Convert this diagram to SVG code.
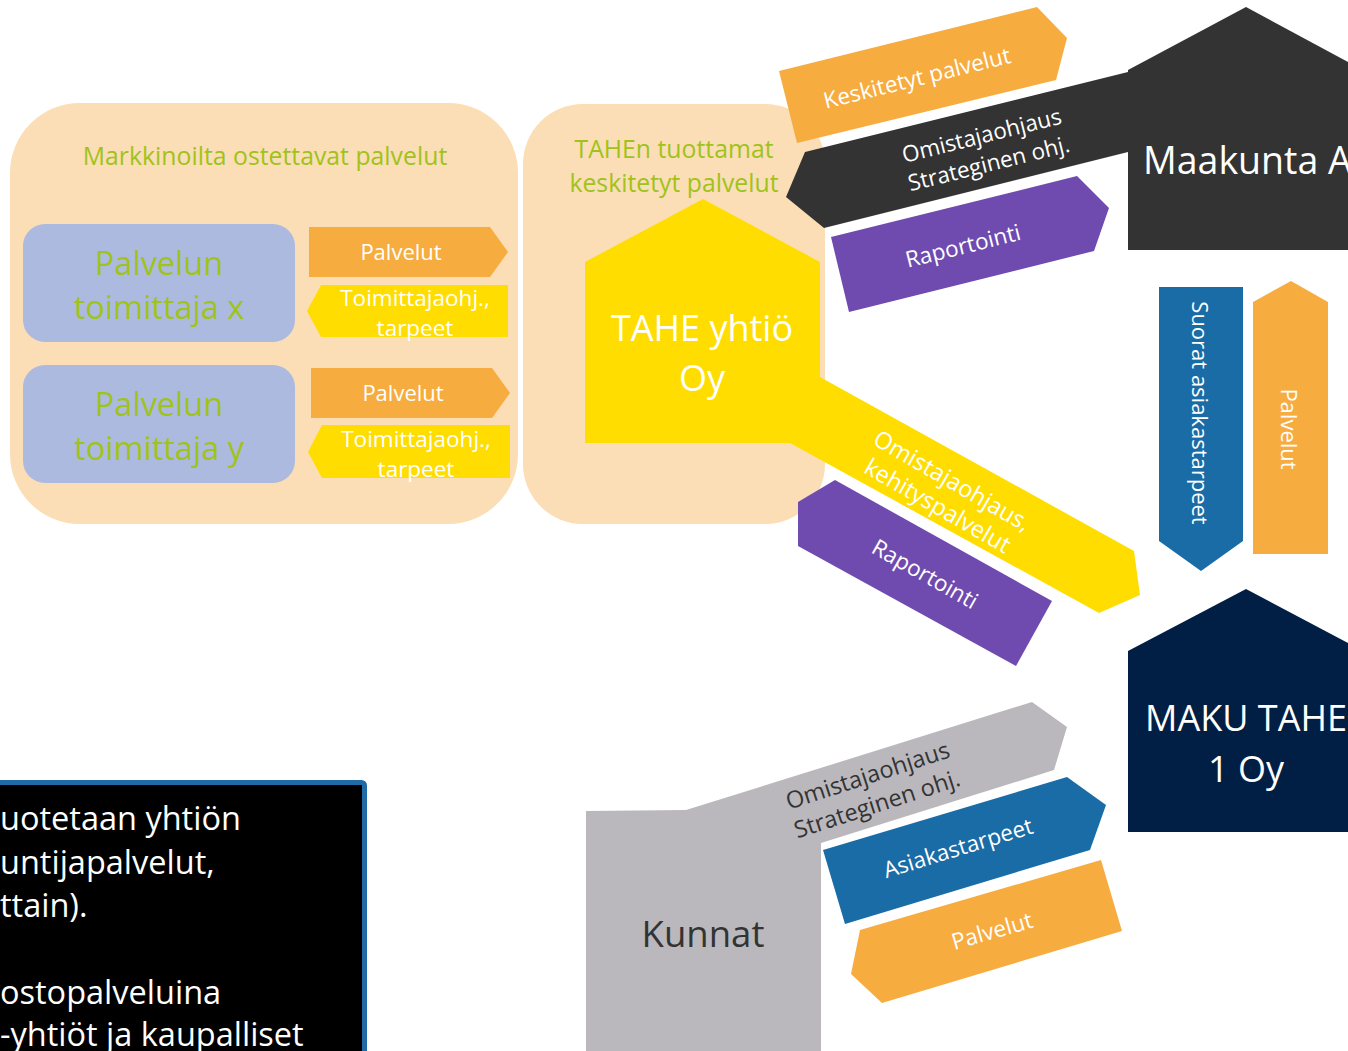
<svg xmlns="http://www.w3.org/2000/svg" width="1348" height="1051" viewBox="0 0 1348 1051">
<style>
text{font-family:"Open Sans","Noto Sans","DejaVu Sans",sans-serif}
.w{fill:#ffffff}
.g{fill:#9FC31A}
.d{fill:#333333}
.m{text-anchor:middle}
.peach{fill:#FBDEB5}
.lav{fill:#ADBADF}
.or{fill:#F7AC40}
.ye{fill:#FFDD00}
.dk{fill:#333333}
.pu{fill:#6F4BB0}
.bl{fill:#1A6CA7}
.nv{fill:#011F44}
.gr{fill:#BAB8BD}
</style>
<rect width="1348" height="1051" fill="#ffffff"/>

<g id="panel-markkinat">
<rect class="peach" x="10" y="103" width="508" height="421" rx="70"/>
<text class="g m" x="265" y="165" font-size="24.8">Markkinoilta ostettavat palvelut</text>
</g>

<g id="panel-tahe">
<rect class="peach" x="523" y="104" width="302" height="420" rx="60"/>
<text class="g m" x="674" y="158" font-size="24.8">TAHEn tuottamat</text>
<text class="g m" x="674" y="192" font-size="24.8">keskitetyt palvelut</text>
</g>

<g id="toimittaja-x">
<rect class="lav" x="23" y="224" width="272" height="118" rx="22"/>
<text class="g m" x="159" y="275" font-size="32.5">Palvelun</text>
<text class="g m" x="159" y="319" font-size="32.5">toimittaja x</text>
</g>

<g id="toimittaja-y">
<rect class="lav" x="23" y="365" width="272" height="118" rx="22"/>
<text class="g m" x="159" y="416" font-size="32.5">Palvelun</text>
<text class="g m" x="159" y="460" font-size="32.5">toimittaja y</text>
</g>

<g id="tahe-yhtio">
<polygon class="ye" points="585,262 703,199 820,262 820,443 585,443"/>
<text class="w m" x="702" y="341" font-size="36">TAHE yhtiö</text>
<text class="w m" x="702" y="391" font-size="36">Oy</text>
</g>

<g id="maakunta-a">
<polygon class="dk" points="1128,70 1246,7 1348,62 1348,250 1128,250"/>
<text class="w" x="1143" y="174" font-size="37.5">Maakunta A</text>
</g>

<g id="maku-tahe">
<polygon class="nv" points="1128,651 1246,589 1348,643 1348,832 1128,832"/>
<text class="w m" x="1246" y="731" font-size="36">MAKU TAHE</text>
<text class="w m" x="1246" y="782" font-size="36">1 Oy</text>
</g>

<g id="kunnat">
<polygon class="gr" points="586,811 686,810 1032,702 1067,727 1054,770 821,843 821,1051 586,1051"/>
<text class="d m" x="703" y="947" font-size="36.5">Kunnat</text>
</g>

<g id="infobox">
<rect x="-10" y="782.5" width="374.5" height="300" fill="#000000" stroke="#1E6BA8" stroke-width="5" rx="3"/>
<text class="w" font-size="32.5">
<tspan x="0" y="830">uotetaan yhtiön</tspan>
<tspan x="0" y="873.5">untijapalvelut,</tspan>
<tspan x="0" y="917">ttain).</tspan>
<tspan x="0" y="1004">ostopalveluina</tspan>
<tspan x="0" y="1046">-yhtiöt ja kaupalliset</tspan>
</text>
</g>

<g id="connectors">
<polygon class="or" points="309,227 490,227 508,252 490,277 309,277"/>
<text class="w m" x="401" y="260" font-size="22">Palvelut</text>
<polygon class="ye" points="321,285 508,285 508,337 321,337 307,311"/>
<text class="w m" x="415" y="306" font-size="22.5">Toimittajaohj.,</text>
<text class="w m" x="415" y="336" font-size="22.5">tarpeet</text>

<polygon class="or" points="311,368 492,368 510,393 492,418 311,418"/>
<text class="w m" x="403" y="401" font-size="22">Palvelut</text>
<polygon class="ye" points="322,425 510,425 510,478 322,478 308,452"/>
<text class="w m" x="416" y="447" font-size="22.5">Toimittajaohj.,</text>
<text class="w m" x="416" y="477" font-size="22.5">tarpeet</text>

<polygon class="or" points="779,71 1037,7 1067,38 1056,80 797,143"/>
<text class="w m" transform="translate(917,78) rotate(-14)" dy="0.35em" font-size="22.5">Keskitetyt palvelut</text>

<polygon class="dk" points="786,197 805,152 1128,72 1128,152 824,228"/>
<text class="w m" transform="translate(985,149) rotate(-14)" font-size="22.5"><tspan x="0" y="-6">Omistajaohjaus</tspan><tspan x="0" y="23">Strateginen ohj.</tspan></text>

<polygon class="pu" points="831,237 1077,176 1109,208 1094,251 849,312"/>
<text class="w m" transform="translate(963,246) rotate(-14)" dy="0.35em" font-size="22.5">Raportointi</text>

<polygon class="ye" points="820,377 1134,551 1140,595 1099,613 790,443"/>
<text class="w m" transform="translate(945,493) rotate(30)" font-size="23.5"><tspan x="0" y="-6">Omistajaohjaus,</tspan><tspan x="0" y="23">kehityspalvelut</tspan></text>

<polygon class="pu" points="798,502 835,480 1052,601 1016,666 798,546"/>
<text class="w m" transform="translate(925,574) rotate(29.5)" dy="0.35em" font-size="22.5">Raportointi</text>

<polygon class="bl" points="1159,287 1243,287 1243,541 1201,571 1159,541"/>
<text class="w m" transform="translate(1200,413) rotate(90)" dy="0.35em" font-size="22">Suorat asiakastarpeet</text>

<polygon class="or" points="1253,302 1291,281 1328,302 1328,554 1253,554"/>
<text class="w m" transform="translate(1289,429) rotate(90)" dy="0.35em" font-size="22">Palvelut</text>

<text class="d m" transform="translate(872,789) rotate(-18)" font-size="23.5"><tspan x="0" y="-6">Omistajaohjaus</tspan><tspan x="0" y="24">Strateginen ohj.</tspan></text>

<polygon class="bl" points="823,850 1067,777 1106,805 1090,850 845,924"/>
<text class="w m" transform="translate(958,848) rotate(-17)" dy="0.35em" font-size="22.5">Asiakastarpeet</text>

<polygon class="or" points="860,930 1101,860 1122,931 882,1003 851,974"/>
<text class="w m" transform="translate(992,931) rotate(-16)" dy="0.35em" font-size="22.5">Palvelut</text>
</g>
</svg>
